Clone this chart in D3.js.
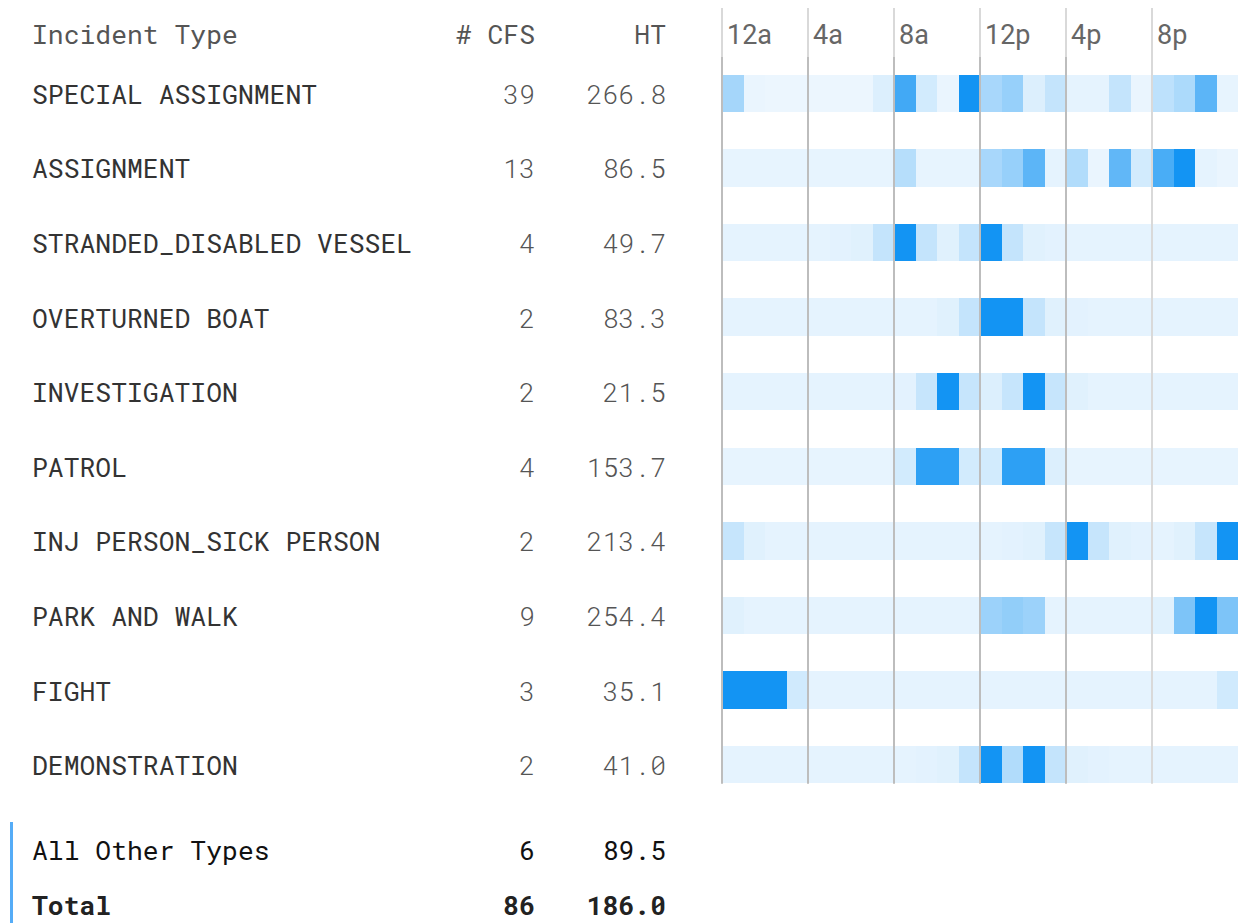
<!DOCTYPE html>
<head>
  <meta charset="utf-8">
  <script src="https://d3js.org/d3.v7.min.js"></script>
  <style>
    body { margin:0; background:#fff; }
    .mono { font-family: 'Roboto Mono', 'DejaVu Sans Mono', 'Liberation Mono', monospace; font-size: 26.4px; }
    .hour { font-family: Roboto, 'Noto Sans', sans-serif; font-size: 27px; fill: #666; }
  </style>
</head>
<body>
  <svg id="chart" width="1238" height="923"></svg>
  <script>
    var incidentTypes = ["SPECIAL ASSIGNMENT", "ASSIGNMENT", "STRANDED_DISABLED VESSEL", "OVERTURNED BOAT",
      "INVESTIGATION", "PATROL", "INJ PERSON_SICK PERSON", "PARK AND WALK", "FIGHT", "DEMONSTRATION"];
    var cfsCounts = [39, 13, 4, 2, 2, 4, 2, 9, 3, 2];
    var handleTimes = [266.8, 86.5, 49.7, 83.3, 21.5, 153.7, 213.4, 254.4, 35.1, 41.0];

    var summaryLabels = ["All Other Types", "Total"];
    var summaryCfs = [6, 86];
    var summaryHt = [89.5, 186.0];

    var hourTicks = [0, 4, 8, 12, 16, 20];
    var hourLabels = ["12a", "4a", "8a", "12p", "4p", "8p"];

    // relative activity per hour (0-100), one list of 24 per incident type
    var hourlyIntensity = [
      [38, 9, 8, 8, 8, 8, 8, 15, 80, 19, 9, 100, 37, 44, 15, 25, 11, 11, 25, 9, 28, 35, 69, 10],
      [10, 10, 10, 10, 10, 10, 10, 10, 31, 10, 10, 10, 37, 44, 69, 11, 33, 9, 67, 19, 77, 100, 11, 9],
      [11, 11, 11, 11, 11, 12, 13, 25, 100, 25, 13, 25, 100, 25, 13, 12, 11, 11, 11, 11, 11, 11, 11, 11],
      [11, 11, 11, 11, 11, 11, 11, 11, 11, 11, 13, 25, 100, 100, 25, 13, 12, 11, 11, 11, 11, 11, 11, 11],
      [11, 11, 11, 11, 11, 11, 11, 11, 12, 24, 100, 24, 15, 24, 100, 24, 13, 11, 11, 11, 11, 11, 11, 11],
      [10, 10, 10, 10, 10, 10, 10, 10, 19, 89, 89, 19, 19, 89, 89, 15, 10, 10, 10, 10, 10, 10, 10, 10],
      [24, 13, 11, 11, 11, 11, 11, 11, 11, 11, 11, 11, 11, 12, 13, 24, 100, 24, 13, 12, 11, 13, 24, 100],
      [13, 11, 11, 11, 11, 11, 11, 11, 11, 11, 11, 11, 42, 46, 42, 11, 11, 11, 11, 11, 13, 55, 100, 55],
      [100, 100, 100, 20, 11, 11, 11, 11, 11, 11, 11, 11, 11, 11, 11, 11, 11, 11, 11, 11, 11, 11, 11, 20],
      [11, 11, 11, 11, 11, 11, 11, 11, 11, 12, 13, 25, 100, 33, 100, 25, 13, 12, 11, 11, 11, 11, 11, 11]
    ];

    var svg = d3.select("#chart");

    var x = d3.scaleLinear().domain([0, 24]).range([722, 1238]);
    var y = d3.scaleBand().domain(incidentTypes).range([56, 802]).paddingInner(0.5).paddingOuter(0.25);
    var color = d3.scaleLinear().domain([0, 100]).range(["#ffffff", "#1394f3"]);

    var nameX = 32, cfsX = 535, htX = 666;
    var bw = y.bandwidth();

    // header
    var head = svg.append("g").attr("class", "mono").style("fill", "#555");
    head.append("text").attr("x", nameX).attr("y", 44).text("Incident Type");
    head.append("text").attr("x", cfsX).attr("y", 44).attr("text-anchor", "end").text("# CFS");
    head.append("text").attr("x", htX).attr("y", 44).attr("text-anchor", "end").text("HT");

    // rows
    var rows = svg.selectAll("g.row")
      .data(incidentTypes)
      .enter().append("g")
      .attr("class", "row mono");

    rows.append("text")
      .attr("x", nameX)
      .attr("y", function(d) { return y(d) + bw / 2 + 10.5; })
      .style("fill", "#333")
      .text(function(d) { return d; });

    rows.append("text")
      .attr("x", cfsX)
      .attr("y", function(d) { return y(d) + bw / 2 + 10.5; })
      .attr("text-anchor", "end")
      .style("fill", "#555").style("font-weight", 300)
      .text(function(d, i) { return cfsCounts[i]; });

    rows.append("text")
      .attr("x", htX)
      .attr("y", function(d) { return y(d) + bw / 2 + 10.5; })
      .attr("text-anchor", "end")
      .style("fill", "#555").style("font-weight", 300)
      .text(function(d, i) { return d3.format(".1f")(handleTimes[i]); });

    // heat strips
    rows.each(function(d, i) {
      d3.select(this).selectAll("rect")
        .data(hourlyIntensity[i])
        .enter().append("rect")
        .attr("x", function(v, h) { return x(h); })
        .attr("y", y(d))
        .attr("width", x(1) - x(0) + 0.5)
        .attr("height", bw)
        .attr("shape-rendering", "crispEdges")
        .attr("fill", function(v) { return color(v); });
    });

    // hour grid lines
    var grid = svg.append("g");
    grid.selectAll("line.top")
      .data(hourTicks)
      .enter().append("line")
      .attr("x1", function(h) { return x(h); })
      .attr("x2", function(h) { return x(h); })
      .attr("y1", 8).attr("y2", 57)
      .attr("stroke", "#d9d9d9").attr("stroke-width", 2);
    grid.selectAll("line.body")
      .data(hourTicks)
      .enter().append("line")
      .attr("x1", function(h) { return x(h); })
      .attr("x2", function(h) { return x(h); })
      .attr("y1", 57).attr("y2", y.range()[1] - (y.step() * 0.75) + bw + 0.5)
      .attr("stroke", function(h) { return h === 20 ? "#d9d9d9" : "#bdbdbd"; })
      .attr("stroke-width", 2);

    grid.selectAll("text")
      .data(hourTicks)
      .enter().append("text")
      .attr("class", "hour")
      .attr("x", function(h) { return x(h) + 5; })
      .attr("y", 44)
      .text(function(h, i) { return hourLabels[i]; });

    // summary rows
    svg.append("rect")
      .attr("x", 10).attr("y", 822)
      .attr("width", 3).attr("height", 101)
      .attr("fill", "#55acf7");

    var sumY = [860, 915];
    var summary = svg.selectAll("g.summary")
      .data(summaryLabels)
      .enter().append("g")
      .attr("class", "summary mono")
      .style("fill", function(d, i) { return i === 1 ? "#222" : "#111"; })
      .style("font-weight", function(d, i) { return i === 1 ? "bold" : "normal"; });

    summary.append("text")
      .attr("x", nameX).attr("y", function(d, i) { return sumY[i]; })
      .text(function(d) { return d; });
    summary.append("text")
      .attr("x", cfsX).attr("y", function(d, i) { return sumY[i]; })
      .attr("text-anchor", "end")
      .text(function(d, i) { return summaryCfs[i]; });
    summary.append("text")
      .attr("x", htX).attr("y", function(d, i) { return sumY[i]; })
      .attr("text-anchor", "end")
      .text(function(d, i) { return d3.format(".1f")(summaryHt[i]); });
  </script>
</body>
